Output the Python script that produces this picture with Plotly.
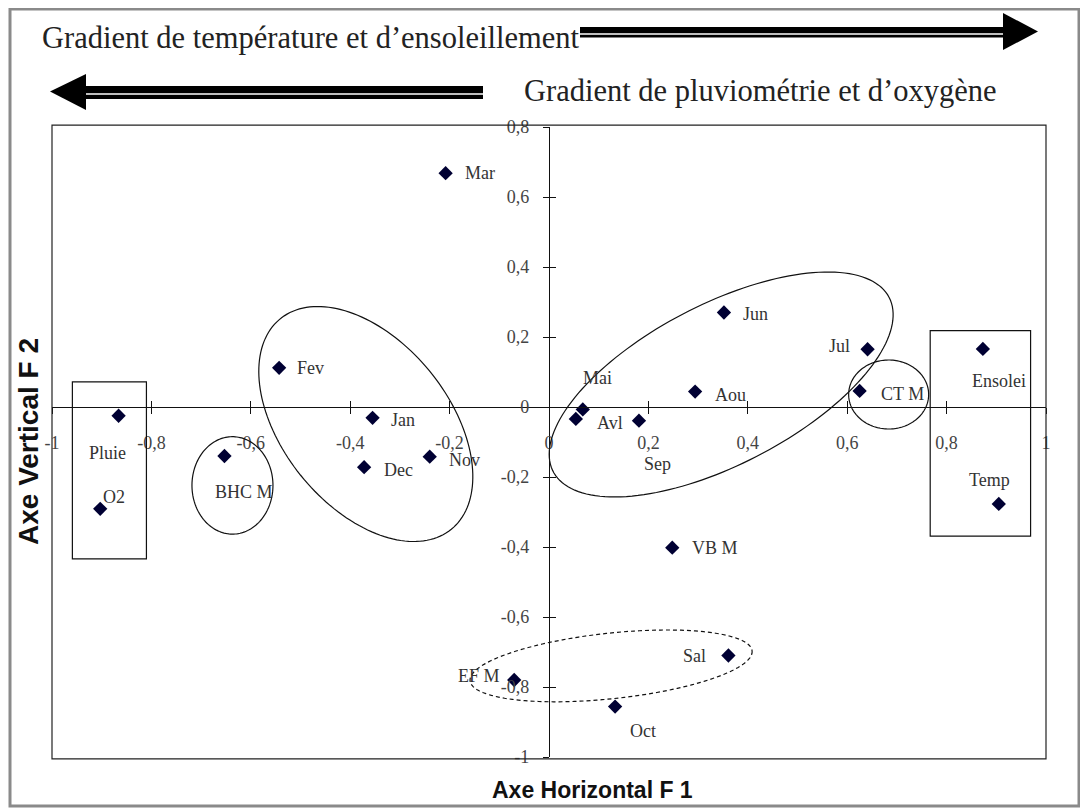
import numpy as np
import plotly.graph_objects as go

# ---------------- data ----------------
labels = ["Mar", "Fev", "Jan", "Dec", "Nov", "Pluie", "O2", "BHC M", "Mai", "Avl",
          "Sep", "Aou", "Jun", "Jul", "CT M", "Ensolei", "Temp", "VB M", "Sal", "EF M", "Oct"]
f1 = [-0.208, -0.543, -0.355, -0.372, -0.240, -0.866, -0.903, -0.653, 0.068, 0.054,
      0.181, 0.294, 0.352, 0.641, 0.625, 0.873, 0.905, 0.248, 0.361, -0.070, 0.133]
f2 = [0.668, 0.112, -0.031, -0.172, -0.142, -0.025, -0.291, -0.140, -0.007, -0.034,
      -0.039, 0.044, 0.270, 0.165, 0.046, 0.166, -0.277, -0.402, -0.710, -0.780, -0.856]

x_tick_vals = [-1, -0.8, -0.6, -0.4, -0.2, 0, 0.2, 0.4, 0.6, 0.8, 1]
x_tick_text = ["-1", "-0,8", "-0,6", "-0,4", "-0,2", "0", "0,2", "0,4", "0,6", "0,8", "1"]
y_tick_vals = [-1, -0.8, -0.6, -0.4, -0.2, 0, 0.2, 0.4, 0.6, 0.8]
y_tick_text = ["-1", "-0,8", "-0,6", "-0,4", "-0,2", "0", "0,2", "0,4", "0,6", "0,8"]

# ---------------- layout geometry ----------------
# the page body has an 8px margin; the figure is sized/placed to compensate
OFF = 8
W, H = 1080, 804
P_LEFT, P_RIGHT, P_TOP, P_BOTTOM = 52, 1046, 127, 757   # plot area on screen
ML = P_LEFT - OFF
MR = W - (P_RIGHT - OFF)
MT = P_TOP - OFF
MB = H - (P_BOTTOM - OFF)
PW, PH = P_RIGHT - P_LEFT, P_BOTTOM - P_TOP
XR = [-1, 1]
YR = [-1, 0.8]
SX = PW / (XR[1] - XR[0])
SY = PH / (YR[1] - YR[0])


def pxx(px):
    return (px - P_LEFT) / PW


def pxy(py):
    return (P_BOTTOM - py) / PH


# label placement: (xanchor, xshift px, yshift px)
label_pos = {
    "Mar": ("left", 17, 0), "Fev": ("left", 16, 0), "Jan": ("left", 16, -2),
    "Dec": ("left", 18, -3), "Nov": ("left", 17, -3), "Pluie": ("center", -11, -37),
    "O2": ("center", 14, 12), "BHC M": ("center", 20, -36), "Mai": ("center", 15, 31),
    "Avl": ("center", 34, -4), "Sep": ("center", 19, -43), "Aou": ("left", 18, -3),
    "Jun": ("left", 17, -1), "Jul": ("right", -16, 3), "CT M": ("left", 19, -3),
    "Ensolei": ("center", 16, -32), "Temp": ("center", -9, 24), "VB M": ("left", 18, 0),
    "Sal": ("right", -20, 0), "EF M": ("right", -12, 4), "Oct": ("center", 28, -24),
}

fig = go.Figure()
fig.add_trace(go.Scatter(
    x=f1, y=f2, mode="markers",
    marker=dict(symbol="diamond", size=11, color="#000033", line=dict(width=0)),
    hoverinfo="skip", showlegend=False,
))
# invisible trace to activate the overlay axes (inner half of crossing ticks)
fig.add_trace(go.Scatter(x=[None], y=[None], xaxis="x2", yaxis="y2",
                         mode="markers", showlegend=False, hoverinfo="skip"))

annotations = []
lab_font = dict(family="Liberation Serif, Times New Roman, serif", size=18, color="#333333")
for lab, x, y in zip(labels, f1, f2):
    anc, xs, ys = label_pos[lab]
    annotations.append(dict(x=x, y=y, xref="x", yref="y", text=lab, showarrow=False,
                            xanchor=anc, yanchor="middle", xshift=xs, yshift=ys,
                            font=lab_font))

# gradient texts
grad_font = dict(family="Liberation Serif, Times New Roman, serif", size=30.5, color="#222222")
annotations.append(dict(x=pxx(40), y=pxy(38), xref="paper", yref="paper",
                        text="Gradient de température et d’ensoleillement", showarrow=False,
                        xanchor="left", yanchor="middle", font=grad_font))
annotations.append(dict(x=pxx(522), y=pxy(91), xref="paper", yref="paper",
                        text="Gradient de pluviométrie et d’oxygène", showarrow=False,
                        xanchor="left", yanchor="middle", font=grad_font))
# axis titles
annotations.append(dict(x=pxx(592), y=pxy(790), xref="paper", yref="paper",
                        text="<b>Axe Horizontal F 1</b>", showarrow=False,
                        xanchor="center", yanchor="middle",
                        font=dict(family="Liberation Sans, Arial, sans-serif", size=23, color="#111111")))
annotations.append(dict(x=pxx(28), y=pxy(442), xref="paper", yref="paper",
                        text="<b>Axe Vertical F 2</b>", showarrow=False, textangle=-90,
                        xanchor="center", yanchor="middle",
                        font=dict(family="Liberation Sans, Arial, sans-serif", size=28, color="#111111")))

shapes = []
# outer grey frame
shapes.append(dict(type="rect", xref="paper", yref="paper",
                   x0=pxx(10), x1=pxx(1079), y0=pxy(806), y1=pxy(9),
                   line=dict(color="#8a8a8a", width=3), fillcolor="rgba(0,0,0,0)", layer="below"))
# plot frame
shapes.append(dict(type="rect", xref="paper", yref="paper", x0=0, x1=1, y0=-0.003, y1=1.003,
                   line=dict(color="#222222", width=1.2)))


def rect_px(x0, x1, y0, y1, color):
    return dict(type="rect", xref="paper", yref="paper", x0=pxx(x0), x1=pxx(x1),
                y0=pxy(y1), y1=pxy(y0), fillcolor=color, line=dict(width=0))


def tri_px(pts):
    d = "M " + " L ".join(f"{pxx(a):.5f},{pxy(b):.5f}" for a, b in pts) + " Z"
    return dict(type="path", xref="paper", yref="paper", path=d,
                fillcolor="black", line=dict(width=0))


# arrow 1 (to the right)
shapes.append(rect_px(580, 1005, 27, 37.5, "black"))
shapes.append(rect_px(580, 1005, 33.2, 34.8, "white"))
shapes.append(tri_px([(1003, 13), (1038, 31.5), (1003, 50)]))
# arrow 2 (to the left)
shapes.append(rect_px(84, 483, 86, 99, "black"))
shapes.append(rect_px(84, 483, 93.2, 94.8, "white"))
shapes.append(tri_px([(86, 74), (50, 91.5), (86, 110)]))

# group rectangles (data coords)
for x0, x1, y0, y1 in [(-0.959, -0.810, -0.434, 0.072), (0.767, 0.969, -0.369, 0.218)]:
    shapes.append(dict(type="rect", xref="x", yref="y", x0=x0, x1=x1, y0=y0, y1=y1,
                       line=dict(color="#111111", width=1.2), fillcolor="rgba(0,0,0,0)"))

# group ellipses: centre (data), semi-axes (px), rotation (deg, clockwise on screen), dash
ellipses = [
    (-0.3686, -0.0486, 135.6, 82.9, 50.9, "solid"),
    (0.3464, 0.0643, 189.2, 80.2, -27.4, "solid"),
    (0.1249, -0.7397, 141.8, 32.8, -6.07, "4px,3px"),
    (-0.6369, -0.2240, 40.5, 48.7, 0.0, "solid"),
    (0.6834, 0.0357, 40.0, 34.5, 0.0, "solid"),
]
t = np.linspace(0, 2 * np.pi, 160)
for cx, cy, a, b, ang, dash in ellipses:
    th = np.deg2rad(ang)
    dxp = a * np.cos(t) * np.cos(th) - b * np.sin(t) * np.sin(th)
    dyp = a * np.cos(t) * np.sin(th) + b * np.sin(t) * np.cos(th)
    xs = cx + dxp / SX
    ys = cy - dyp / SY
    d = "M " + " L ".join(f"{u:.5f},{v:.5f}" for u, v in zip(xs, ys)) + " Z"
    shapes.append(dict(type="path", xref="x", yref="y", path=d,
                       line=dict(color="#111111", width=1.2, dash=dash)))

tick_font = dict(family="Liberation Serif, Times New Roman, serif", size=18, color="#444444")
xpos = (0 - YR[0]) / (YR[1] - YR[0])
ypos = (0 - XR[0]) / (XR[1] - XR[0])

fig.update_layout(
    width=W, height=H,
    margin=dict(l=ML, r=MR, t=MT, b=MB, pad=0),
    paper_bgcolor="white", plot_bgcolor="white",
    showlegend=False,
    xaxis=dict(range=XR, anchor="free", position=xpos, showline=True, linecolor="#111111",
               linewidth=1.2, ticks="outside", ticklen=6, tickcolor="#111111", tickwidth=1.2,
               tickvals=x_tick_vals, ticktext=x_tick_text, tickfont=tick_font,
               ticklabelstandoff=13, showgrid=False, zeroline=False, fixedrange=True),
    yaxis=dict(range=YR, anchor="free", position=ypos, showline=True, linecolor="#111111",
               linewidth=1.2, ticks="outside", ticklen=6, tickcolor="#111111", tickwidth=1.2,
               tickvals=y_tick_vals, ticktext=y_tick_text, tickfont=tick_font,
               ticklabelstandoff=10, showgrid=False, zeroline=False, fixedrange=True),
    xaxis2=dict(range=XR, overlaying="x", anchor="free", position=xpos, showline=False,
                ticks="inside", ticklen=6, tickcolor="#111111", tickwidth=1.2,
                tickvals=x_tick_vals[1:-1], showticklabels=False, showgrid=False,
                zeroline=False, fixedrange=True),
    yaxis2=dict(range=YR, overlaying="y", anchor="free", position=ypos, showline=False,
                ticks="inside", ticklen=6, tickcolor="#111111", tickwidth=1.2,
                tickvals=y_tick_vals[1:-1], showticklabels=False, showgrid=False,
                zeroline=False, fixedrange=True),
    shapes=shapes,
    annotations=annotations,
)

fig.write_html("out.html")
